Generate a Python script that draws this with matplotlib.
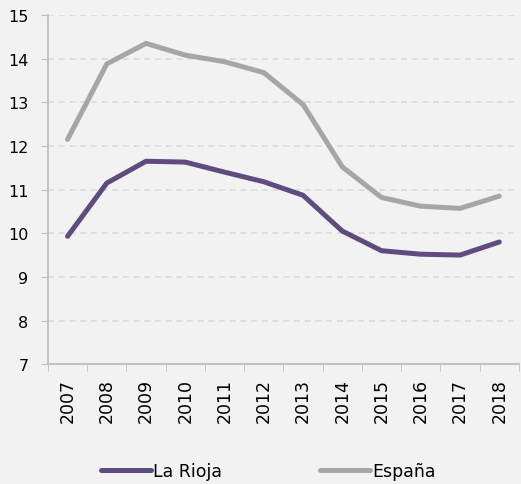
import matplotlib
matplotlib.use("Agg")
import matplotlib.pyplot as plt
import numpy as np

years = ["2007", "2008", "2009", "2010", "2011", "2012",
         "2013", "2014", "2015", "2016", "2017", "2018"]
la_rioja = [9.93, 11.15, 11.65, 11.63, 11.40, 11.18, 10.87, 10.05, 9.60, 9.52, 9.50, 9.80]
espana = [12.15, 13.88, 14.35, 14.08, 13.93, 13.68, 12.95, 11.52, 10.82, 10.62, 10.57, 10.85]

bg = "#f2f2f2"
fig = plt.figure(figsize=(5.21, 4.85), dpi=100, facecolor=bg)
ax = fig.add_axes([0.092, 0.247, 0.904, 0.72], facecolor=bg)

x = np.arange(len(years))
ax.plot(x, la_rioja, color="#5f4b7e", lw=3.6, solid_capstyle="round",
        solid_joinstyle="round", label="La Rioja", zorder=3)
ax.plot(x, espana, color="#a6a6a6", lw=3.6, solid_capstyle="round",
        solid_joinstyle="round", label="España", zorder=3)

ax.set_xlim(-0.5, len(years) - 0.5)
ax.set_ylim(7, 15)
ax.set_yticks(range(7, 16))
ax.set_xticks(x)
ax.set_xticklabels(years, rotation=90, fontsize=12.5)
ax.set_xticks(np.arange(-0.5, len(years)), minor=True)
ax.tick_params(axis="x", which="major", length=0, pad=10)
ax.tick_params(axis="x", which="minor", length=5, color="#bfbfbf")
ax.tick_params(axis="y", length=5, color="#bfbfbf", labelsize=11.5, pad=9)

ax.grid(axis="y", color="#d9d9d9", linestyle=(0, (4, 3)), lw=1.1)
for s in ["top", "right"]:
    ax.spines[s].set_visible(False)
for s in ["left", "bottom"]:
    ax.spines[s].set_color("#bfbfbf")
    ax.spines[s].set_linewidth(1.3)

fig.legend(loc="center", bbox_to_anchor=(0.515, 0.026), ncol=2, frameon=False,
           fontsize=12.5, handlelength=2.9, handletextpad=0.15, columnspacing=5.6)

fig.savefig("out.png", dpi=100, facecolor=bg)
